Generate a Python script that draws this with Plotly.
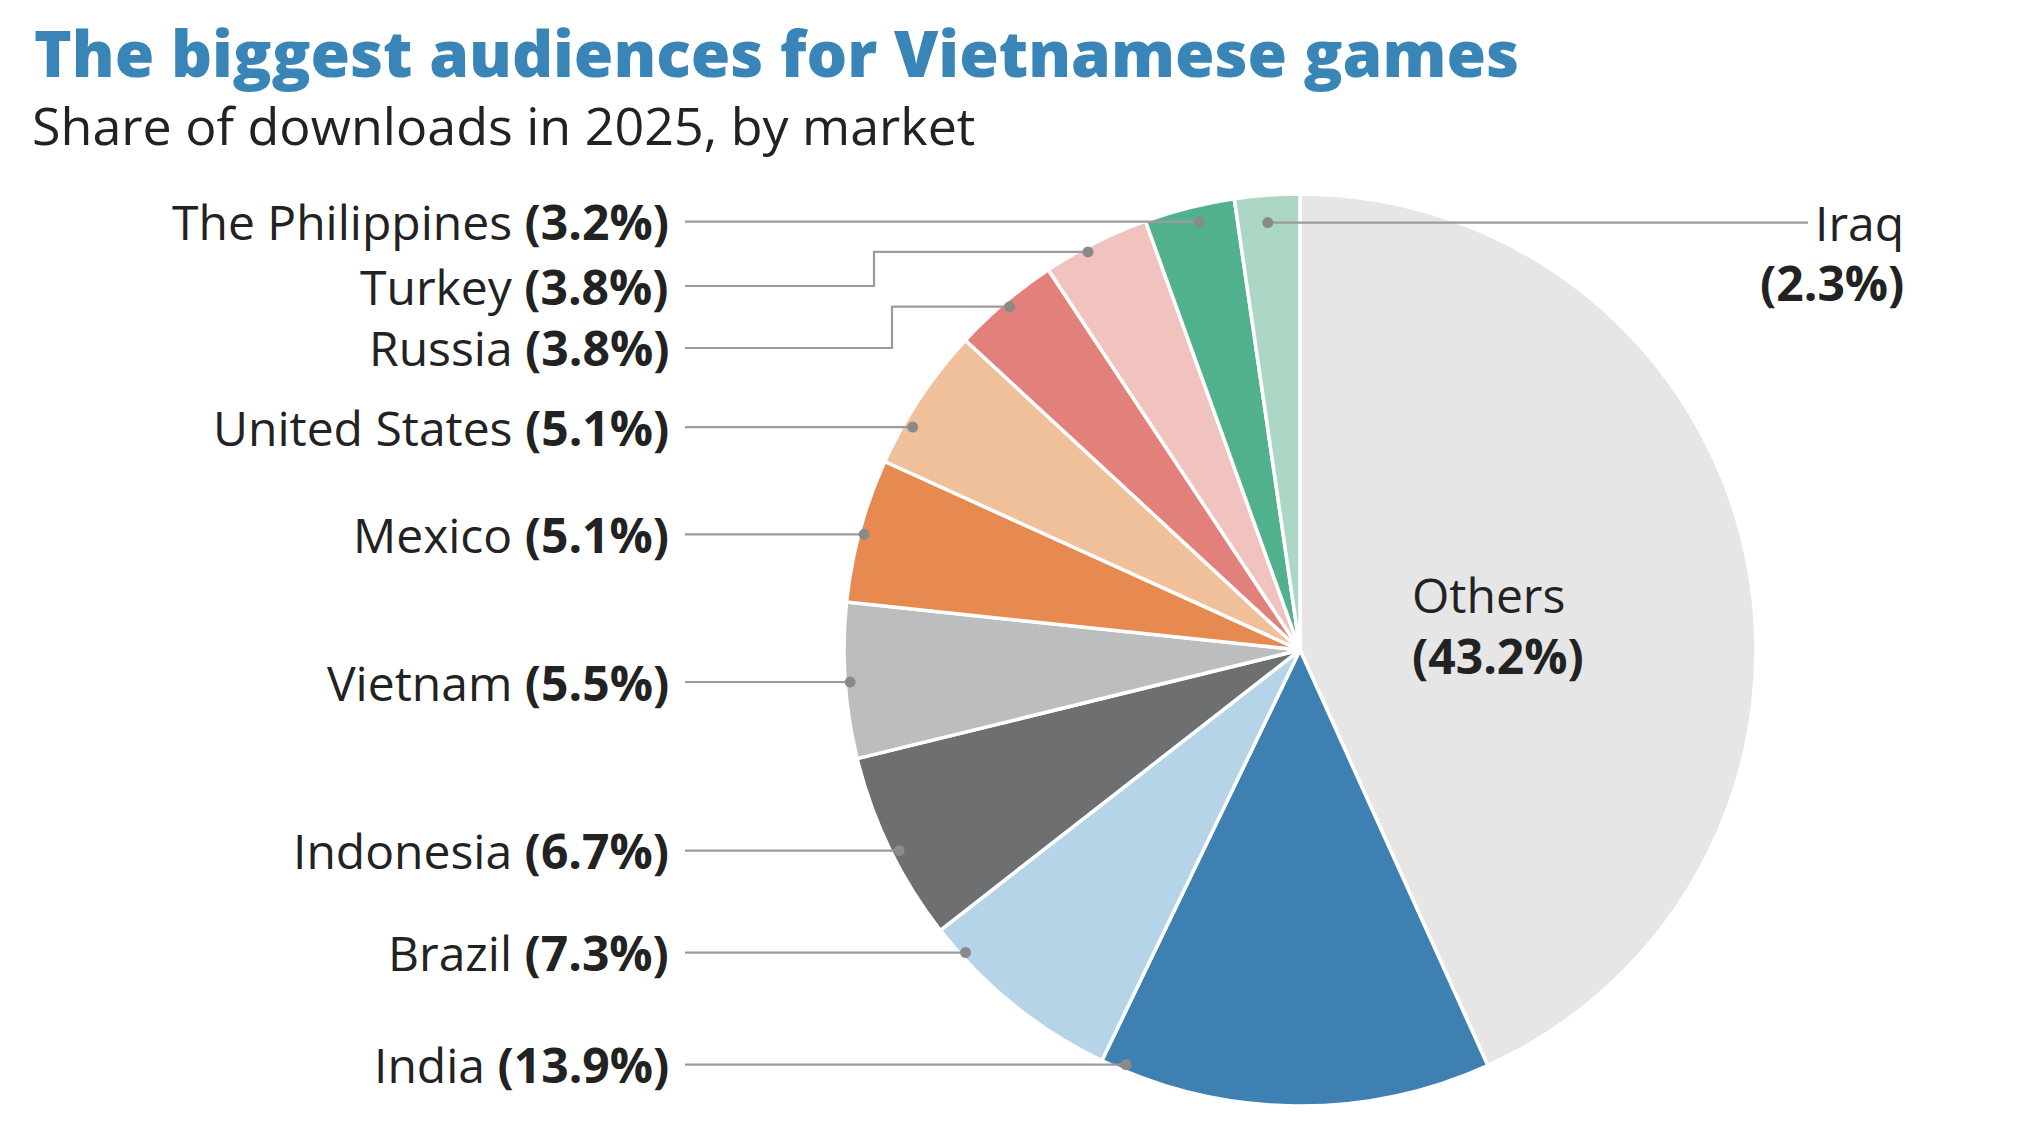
import math
import plotly.graph_objects as go

# ---------------- data ----------------
markets = ["Others", "India", "Brazil", "Indonesia", "Vietnam", "Mexico",
           "United States", "Russia", "Turkey", "The Philippines", "Iraq"]
shares = [43.2, 13.9, 7.3, 6.7, 5.5, 5.1, 5.1, 3.8, 3.8, 3.2, 2.3]
colors = ["#e6e6e6", "#3d80b1", "#b6d4e8", "#6e6f71", "#bcbdbf", "#e68a52",
          "#f0c09b", "#e2807b", "#f0c3bf", "#52b18d", "#acd7c4"]

title_text = "The biggest audiences for Vietnamese games"
subtitle_text = "Share of downloads in 2025, by market"

# ---------------- layout config ----------------
W, H = 2021, 1142
CX, CY, R = 1300, 650, 456

leader = {
    "India":           dict(frac=0.94, rf=0.986, elbow_y=None, side="left"),
    "Brazil":          dict(frac=0.84, rf=0.989, elbow_y=None, side="left"),
    "Indonesia":       dict(frac=0.47, rf=0.983, elbow_y=None, side="left"),
    "Vietnam":         dict(frac=0.49, rf=0.989, elbow_y=None, side="left"),
    "Mexico":          dict(frac=0.48, rf=0.989, elbow_y=None, side="left"),
    "United States":   dict(frac=0.30, rf=0.980, elbow_y=None, side="left"),
    "Russia":          dict(frac=0.51, rf=0.986, elbow_y=348, side="left", elbow_x=892),
    "Turkey":          dict(frac=0.40, rf=0.989, elbow_y=286, side="left", elbow_x=874),
    "The Philippines": dict(frac=0.57, rf=0.965, elbow_y=None, side="left"),
    "Iraq":            dict(frac=0.48, rf=0.940, elbow_y=None, side="right"),
}
LABEL_RIGHT = 671
LINE_START = 685
IRAQ_LINE_END = 1808
IRAQ_TEXT_RIGHT = 1906

LINE_COLOR = "#9b9b9b"
DOT_COLOR = "#8a8a8a"
TEXT_COLOR = "#222222"
FONT = "Open Sans"
LABEL_SIZE = 48


def px(x):
    return x / W


def py(y):
    return 1 - y / H


fig = go.Figure()
fig.add_trace(go.Pie(
    labels=markets, values=shares, sort=False, direction="clockwise",
    rotation=0, textinfo="none", hoverinfo="label+percent",
    marker=dict(colors=colors, line=dict(color="white", width=3.5)),
    domain=dict(x=[px(CX - R), px(CX + R)], y=[py(CY + R), py(CY - R)]),
    showlegend=False,
))

shapes = []
annotations = []

total = sum(shares)
cum = 0.0
for name, val in zip(markets, shares):
    a0 = cum / total * 360
    a1 = (cum + val) / total * 360
    cum += val
    if name not in leader:
        continue
    cfg = leader[name]
    th = math.radians(a0 + cfg["frac"] * (a1 - a0))
    r = cfg["rf"] * R
    dx = CX + r * math.sin(th)
    dy = CY - r * math.cos(th)
    label = f"{name} <b>({val:.1f}%)</b>"
    if cfg["side"] == "left":
        ly = cfg["elbow_y"] if cfg["elbow_y"] is not None else dy
        if cfg["elbow_y"] is None:
            path = f"M {px(LINE_START)},{py(ly)} L {px(dx)},{py(ly)}"
        else:
            ex = cfg["elbow_x"]
            path = (f"M {px(LINE_START)},{py(ly)} L {px(ex)},{py(ly)} "
                    f"L {px(ex)},{py(dy)} L {px(dx)},{py(dy)}")
        shapes.append(dict(type="path", xref="paper", yref="paper", path=path,
                           line=dict(color=LINE_COLOR, width=2.2)))
        annotations.append(dict(xref="paper", yref="paper", x=px(LABEL_RIGHT), y=py(ly),
                                xanchor="right", yanchor="middle", text=label,
                                showarrow=False,
                                font=dict(family=FONT, size=LABEL_SIZE, color=TEXT_COLOR)))
    else:
        ly = dy
        shapes.append(dict(type="path", xref="paper", yref="paper",
                           path=f"M {px(dx)},{py(ly)} L {px(IRAQ_LINE_END)},{py(ly)}",
                           line=dict(color=LINE_COLOR, width=2.2)))
        annotations.append(dict(xref="paper", yref="paper", x=px(IRAQ_TEXT_RIGHT), y=py(ly),
                                xanchor="right", yanchor="middle", text=name,
                                showarrow=False,
                                font=dict(family=FONT, size=LABEL_SIZE, color=TEXT_COLOR)))
        annotations.append(dict(xref="paper", yref="paper", x=px(IRAQ_TEXT_RIGHT), y=py(ly + 60),
                                xanchor="right", yanchor="middle", text=f"<b>({val:.1f}%)</b>",
                                showarrow=False,
                                font=dict(family=FONT, size=LABEL_SIZE, color=TEXT_COLOR)))
    rd = 5.5
    shapes.append(dict(type="circle", xref="paper", yref="paper",
                       x0=px(dx - rd), x1=px(dx + rd), y0=py(dy + rd), y1=py(dy - rd),
                       fillcolor=DOT_COLOR, line=dict(width=0)))

# Others label inside the slice
annotations.append(dict(xref="paper", yref="paper", x=px(1410), y=py(594),
                        xanchor="left", yanchor="middle", text=markets[0],
                        showarrow=False, font=dict(family=FONT, size=LABEL_SIZE, color=TEXT_COLOR)))
annotations.append(dict(xref="paper", yref="paper", x=px(1410), y=py(655),
                        xanchor="left", yanchor="middle", text=f"<b>({shares[0]:.1f}%)</b>",
                        showarrow=False, font=dict(family=FONT, size=LABEL_SIZE, color=TEXT_COLOR)))

# Title and subtitle
annotations.append(dict(xref="paper", yref="paper", x=px(32), y=py(52),
                        xanchor="left", yanchor="middle", text=title_text,
                        showarrow=False,
                        font=dict(family=FONT, size=64, color="#3a85b8", weight=800)))
annotations.append(dict(xref="paper", yref="paper", x=px(30), y=py(125),
                        xanchor="left", yanchor="middle", text=subtitle_text,
                        showarrow=False, font=dict(family=FONT, size=52, color=TEXT_COLOR)))

fig.update_layout(
    width=W, height=H, margin=dict(l=0, r=0, t=0, b=0),
    paper_bgcolor="white", plot_bgcolor="white",
    shapes=shapes, annotations=annotations,
)

fig.write_html("out.html")
